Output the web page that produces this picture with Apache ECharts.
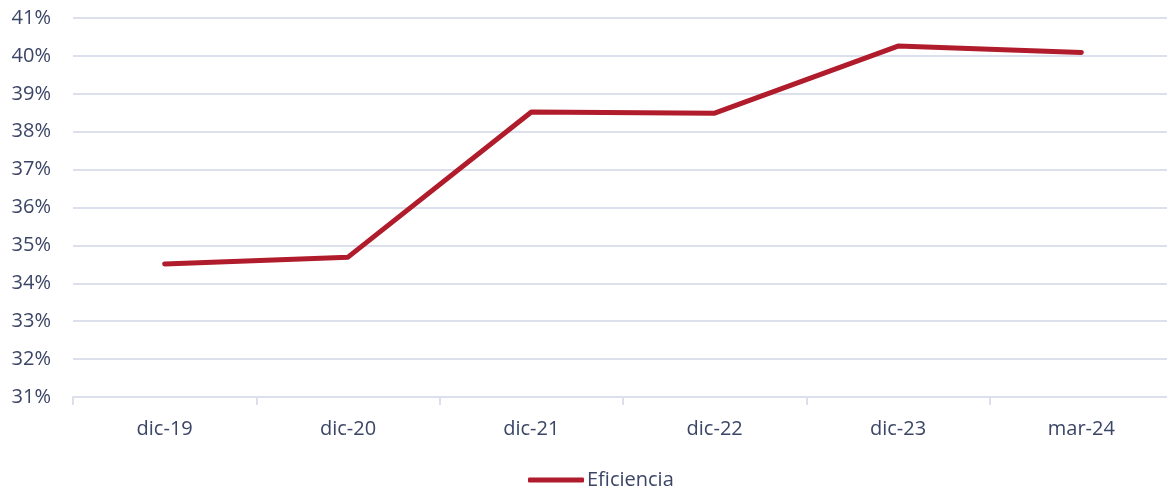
<!DOCTYPE html>
<html>
<head>
<meta charset="utf-8">
<script src="https://cdn.jsdelivr.net/npm/echarts@6/dist/echarts.min.js"></script>
<style>
  html, body { margin: 0; padding: 0; background: #fff; }
  #chart { width: 1167px; height: 488px; }
</style>
</head>
<body>
<div id="chart"></div>
<script>
const categories = ["dic-19", "dic-20", "dic-21", "dic-22", "dic-23", "mar-24"];
const eficiencia = [34.51, 34.69, 38.52, 38.49, 40.26, 40.09];

const chart = echarts.init(document.getElementById("chart"));
const font = "'Open Sans', 'Noto Sans', sans-serif";
const textColor = "#3b4566";
const gridColor = "#dcdfec";

chart.setOption({
  animation: false,
  textStyle: { fontFamily: font },
  grid: { left: 73, width: 1100, top: 18, height: 379, outerBoundsMode: "none", containLabel: false },
  legend: {
    left: 523,
    top: 465,
    icon: "roundRect",
    itemWidth: 56,
    itemHeight: 5,
    textStyle: { color: textColor, fontSize: 20, fontFamily: font, padding: [0, 0, 0, -2] },
    data: ["Eficiencia"]
  },
  xAxis: {
    type: "category",
    data: categories,
    boundaryGap: true,
    axisLine: { lineStyle: { color: gridColor, width: 2 } },
    axisTick: { show: true, length: 8, lineStyle: { color: gridColor, width: 2 } },
    axisLabel: { color: textColor, fontSize: 20, margin: 22, fontFamily: font }
  },
  yAxis: {
    type: "value",
    min: 31,
    max: 41,
    interval: 1,
    axisLine: { show: false },
    axisTick: { show: false },
    axisLabel: { color: textColor, fontSize: 20, margin: 22, fontFamily: font, formatter: v => v + "%" },
    splitLine: { lineStyle: { color: gridColor, width: 2 } }
  },
  series: [{
    name: "Eficiencia",
    type: "line",
    data: eficiencia,
    symbol: "none",
    lineStyle: { color: "#b01c2b", width: 5, cap: "round", join: "round" },
    itemStyle: { color: "#b01c2b" }
  }]
});
</script>
</body>
</html>
